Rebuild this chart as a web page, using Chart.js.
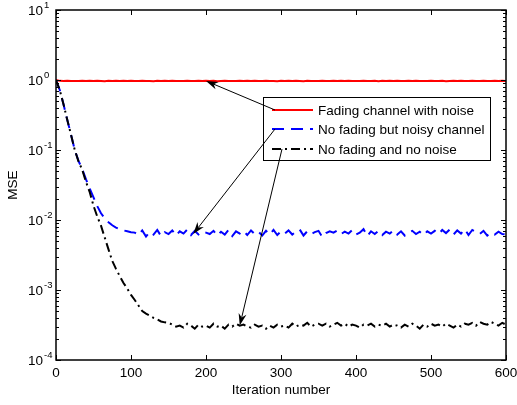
<!DOCTYPE html>
<html>
<head>
<meta charset="utf-8">
<script src="https://cdn.jsdelivr.net/npm/chart.js@4.4.1/dist/chart.umd.min.js"></script>
<style>
  html, body { margin: 0; padding: 0; background: #fff; }
  #wrap { width: 517px; height: 405px; position: relative; }
</style>
</head>
<body>
<div id="wrap"><canvas id="mseChart"></canvas></div>
<script>
// iteration index (every 5th iteration)
const iterations = [
  0, 5, 10, 15, 20, 25, 30, 35, 40, 45,
  50, 55, 60, 65, 70, 75, 80, 85, 90, 95,
  100, 105, 110, 115, 120, 125, 130, 135, 140, 145,
  150, 155, 160, 165, 170, 175, 180, 185, 190, 195,
  200, 205, 210, 215, 220, 225, 230, 235, 240, 245,
  250, 255, 260, 265, 270, 275, 280, 285, 290, 295,
  300, 305, 310, 315, 320, 325, 330, 335, 340, 345,
  350, 355, 360, 365, 370, 375, 380, 385, 390, 395,
  400, 405, 410, 415, 420, 425, 430, 435, 440, 445,
  450, 455, 460, 465, 470, 475, 480, 485, 490, 495,
  500, 505, 510, 515, 520, 525, 530, 535, 540, 545,
  550, 555, 560, 565, 570, 575, 580, 585, 590, 595,
  600
];

const fadingWithNoise = [
  1.00, 0.972, 0.968, 0.975, 0.966, 0.971, 0.964, 0.977, 0.969, 0.973,
  0.965, 0.974, 0.970, 0.962, 0.976, 0.968, 0.972, 0.966, 0.975, 0.969,
  0.973, 0.964, 0.971, 0.977, 0.967, 0.970, 0.963, 0.974, 0.968, 0.972,
  0.966, 0.975, 0.969, 0.971, 0.964, 0.976, 0.970, 0.967, 0.973, 0.965,
  0.972, 0.968, 0.977, 0.963, 0.970, 0.974, 0.966, 0.971, 0.969, 0.975,
  0.964, 0.972, 0.968, 0.976, 0.970, 0.965, 0.973, 0.967, 0.971, 0.962,
  0.975, 0.969, 0.972, 0.966, 0.974, 0.970, 0.963, 0.977, 0.968, 0.971,
  0.967, 0.973, 0.965, 0.970, 0.976, 0.968, 0.972, 0.964, 0.974, 0.969,
  0.971, 0.966, 0.975, 0.968, 0.970, 0.973, 0.962, 0.976, 0.969, 0.972,
  0.965, 0.974, 0.970, 0.967, 0.972, 0.964, 0.977, 0.969, 0.971, 0.966,
  0.973, 0.968, 0.971, 0.975, 0.963, 0.970, 0.974, 0.967, 0.972, 0.969,
  0.966, 0.976, 0.970, 0.968, 0.973, 0.965, 0.971, 0.974, 0.969, 0.972,
  0.970
];

const noFadingNoisy = [
  1.0, 0.72, 0.45, 0.27, 0.166, 0.10, 0.070, 0.053, 0.038, 0.028,
  0.021, 0.0158, 0.0125, 0.0105, 0.0093, 0.0084, 0.0078, 0.0074, 0.0071, 0.0069,
  0.0067, 0.0066, 0.0061, 0.0071, 0.0058, 0.0068, 0.0062, 0.0072, 0.0059, 0.0067,
  0.0063, 0.0071, 0.0060, 0.0069, 0.0064, 0.0073, 0.0061, 0.0070, 0.0062, 0.0068,
  0.0066, 0.0063, 0.0070, 0.0060, 0.0068, 0.0062, 0.0072, 0.0059, 0.0069, 0.0064,
  0.0070, 0.0061, 0.0071, 0.0063, 0.0068, 0.0060, 0.0070, 0.0062, 0.0072, 0.0061,
  0.0069, 0.0064, 0.0071, 0.0062, 0.0068, 0.0073, 0.0060, 0.0069, 0.0063, 0.0067,
  0.0070, 0.0057, 0.0065, 0.0069, 0.0066, 0.0071, 0.0063, 0.0068, 0.0064, 0.0072,
  0.0062, 0.0066, 0.0074, 0.0059, 0.0069, 0.0063, 0.0070, 0.0061, 0.0068, 0.0064,
  0.0071, 0.0062, 0.0069, 0.0060, 0.0066, 0.0070, 0.0063, 0.0068, 0.0061, 0.0069,
  0.0064, 0.0070, 0.0063, 0.0072, 0.0065, 0.0073, 0.0062, 0.0071, 0.0064, 0.0074,
  0.0061, 0.0072, 0.0067, 0.0063, 0.0070, 0.0060, 0.0066, 0.0062, 0.0068, 0.0063,
  0.0062
];

const noFadingNoNoise = [
  1.0, 0.72, 0.45, 0.27, 0.166, 0.10, 0.069, 0.052, 0.035, 0.025,
  0.016, 0.0112, 0.0083, 0.0056, 0.0038, 0.0026, 0.0020, 0.00158, 0.00126, 0.00105,
  0.00085, 0.00072, 0.00060, 0.00050, 0.00046, 0.00043, 0.00040, 0.00038, 0.000355, 0.000345,
  0.00034, 0.00032, 0.00030, 0.00031, 0.00029, 0.00033, 0.00031, 0.00028, 0.00032, 0.00030,
  0.00031, 0.00029, 0.00033, 0.00030, 0.00031, 0.00028, 0.00032, 0.00030, 0.00033, 0.00031,
  0.00032, 0.00030, 0.00029, 0.00032, 0.00030, 0.00031, 0.00028, 0.00031, 0.00029, 0.00032,
  0.00030, 0.00031, 0.00029, 0.00033, 0.00030, 0.00032, 0.00031, 0.00034, 0.00030, 0.00032,
  0.00033, 0.00031, 0.00033, 0.00030, 0.00032, 0.00034, 0.00031, 0.00033, 0.00030, 0.00032,
  0.00031, 0.00029, 0.00032, 0.00031, 0.00033, 0.00030, 0.00032, 0.00031, 0.00033, 0.00030,
  0.00032, 0.00031, 0.00029, 0.00032, 0.00030, 0.00033, 0.00031, 0.00028, 0.00032, 0.00030,
  0.00033, 0.00031, 0.00032, 0.00030, 0.00033, 0.00031, 0.00029, 0.00032, 0.00030, 0.00033,
  0.00032, 0.00034, 0.00031, 0.00035, 0.00033, 0.00032, 0.00035, 0.00033, 0.00031, 0.00034,
  0.00032
];

const seriesNames = ['Fading channel with noise', 'No fading but noisy channel', 'No fading and no noise'];
const xTicks = [0, 100, 200, 300, 400, 500, 600];
const yExponents = [-4, -3, -2, -1, 0, 1];

// where each legend arrow points, in data units (iteration, MSE)
const arrowTargets = [
  { x: 200, y: 0.97 },
  { x: 183, y: 0.0063 },
  { x: 245, y: 0.00031 }
];

const FONT = '"Liberation Sans", Arial, Helvetica, sans-serif';
const lineStyles = [
  { color: '#ff0000', dash: [] },
  { color: '#0000ff', dash: [12, 7] },
  { color: '#000000', dash: [9, 4, 2, 4] }
];

function toPoints(values) {
  return iterations.map((it, i) => ({ x: it, y: values[i] }));
}

function drawArrow(ctx, x0, y0, x1, y1) {
  const dx = x1 - x0, dy = y1 - y0;
  const len = Math.hypot(dx, dy);
  const ux = dx / len, uy = dy / len;
  const nx = -uy, ny = ux;
  const L = 12, W = 8;
  const bx = x1 - ux * L, by = y1 - uy * L;
  const notchX = x1 - ux * L * 0.7, notchY = y1 - uy * L * 0.7;
  ctx.beginPath();
  ctx.moveTo(x0, y0);
  ctx.lineTo(notchX, notchY);
  ctx.stroke();
  ctx.beginPath();
  ctx.moveTo(x1, y1);
  ctx.lineTo(bx + nx * W / 2, by + ny * W / 2);
  ctx.lineTo(notchX, notchY);
  ctx.lineTo(bx - nx * W / 2, by - ny * W / 2);
  ctx.closePath();
  ctx.fill();
}

const matlabAxes = {
  id: 'matlabAxes',
  afterDatasetsDraw(chart) {
    const { ctx, chartArea: a, scales: { x, y } } = chart;
    ctx.save();
    ctx.strokeStyle = '#000';
    ctx.fillStyle = '#000';

    // inward tick marks on all four sides
    ctx.lineWidth = 1;
    ctx.beginPath();
    xTicks.forEach(v => {
      const px = Math.round(x.getPixelForValue(v)) + 0.5;
      ctx.moveTo(px, a.bottom); ctx.lineTo(px, a.bottom - 5);
      ctx.moveTo(px, a.top); ctx.lineTo(px, a.top + 5);
    });
    yExponents.forEach((e, k) => {
      const last = k === yExponents.length - 1;
      for (let m = 1; m <= (last ? 1 : 9); m++) {
        const py = Math.round(y.getPixelForValue(m * Math.pow(10, e))) + 0.5;
        const len = m === 1 ? 5 : 3;
        ctx.moveTo(a.left, py); ctx.lineTo(a.left + len, py);
        ctx.moveTo(a.right, py); ctx.lineTo(a.right - len, py);
      }
    });
    ctx.stroke();

    // frame
    ctx.lineWidth = 1.5;
    ctx.strokeRect(a.left, a.top, a.width, a.height);

    // x tick labels
    ctx.font = '13.5px ' + FONT;
    ctx.textAlign = 'center';
    ctx.textBaseline = 'middle';
    xTicks.forEach(v => ctx.fillText(String(v), x.getPixelForValue(v), a.bottom + 13));

    // y tick labels as 10 with a raised exponent
    yExponents.forEach(e => {
      const py = y.getPixelForValue(Math.pow(10, e));
      ctx.font = '13.5px ' + FONT;
      ctx.textAlign = 'right';
      ctx.textBaseline = 'middle';
      ctx.fillText('10', a.left - 13, py + 1);
      ctx.font = '9.5px ' + FONT;
      ctx.textAlign = 'left';
      ctx.textBaseline = 'alphabetic';
      ctx.fillText(String(e), a.left - 12, py - 2);
    });

    // axis titles
    ctx.font = '13.5px ' + FONT;
    ctx.textAlign = 'center';
    ctx.textBaseline = 'middle';
    ctx.fillText('Iteration number', (a.left + a.right) / 2, a.bottom + 30);
    ctx.save();
    ctx.translate(13, (a.top + a.bottom) / 2);
    ctx.rotate(-Math.PI / 2);
    ctx.fillText('MSE', 0, 0);
    ctx.restore();

    // legend box
    const bx = a.left + 207, by = a.top + 87, bw = 227, bh = 63;
    ctx.fillStyle = '#fff';
    ctx.fillRect(bx, by, bw, bh);
    ctx.lineWidth = 1;
    ctx.strokeStyle = '#000';
    ctx.strokeRect(bx + 0.5, by + 0.5, bw, bh);
    const rowY = [by + 13, by + 32, by + 52];
    const tailDx = [12, 12, 19];
    seriesNames.forEach((name, i) => {
      ctx.save();
      ctx.strokeStyle = lineStyles[i].color;
      ctx.lineWidth = 2;
      ctx.setLineDash(lineStyles[i].dash);
      ctx.beginPath();
      ctx.moveTo(bx + 9, rowY[i]);
      ctx.lineTo(bx + 50, rowY[i]);
      ctx.stroke();
      ctx.restore();
      ctx.fillStyle = '#000';
      ctx.font = '13.5px ' + FONT;
      ctx.textAlign = 'left';
      ctx.textBaseline = 'middle';
      ctx.fillText(name, bx + 55, rowY[i] + 1);
    });

    // arrows from legend entries to their curves
    ctx.lineWidth = 1;
    ctx.strokeStyle = '#000';
    ctx.fillStyle = '#000';
    arrowTargets.forEach((t, i) => {
      drawArrow(ctx, bx + tailDx[i], rowY[i], x.getPixelForValue(t.x), y.getPixelForValue(t.y));
    });
    ctx.restore();
  }
};

const ctx = document.getElementById('mseChart').getContext('2d');
new Chart(ctx, {
  type: 'line',
  data: {
    datasets: [
      { label: seriesNames[0], data: toPoints(fadingWithNoise), borderColor: lineStyles[0].color, borderWidth: 2, borderDash: lineStyles[0].dash, order: 2 },
      { label: seriesNames[1], data: toPoints(noFadingNoisy), borderColor: lineStyles[1].color, borderWidth: 2, borderDash: lineStyles[1].dash, order: 1 },
      { label: seriesNames[2], data: toPoints(noFadingNoNoise), borderColor: lineStyles[2].color, borderWidth: 2, borderDash: lineStyles[2].dash, order: 0 }
    ]
  },
  options: {
    responsive: true,
    maintainAspectRatio: false,
    animation: false,
    layout: { padding: { left: 56, right: 11, top: 10, bottom: 45 } },
    elements: { point: { radius: 0 }, line: { tension: 0, fill: false } },
    plugins: { legend: { display: false }, tooltip: { enabled: false } },
    scales: {
      x: {
        type: 'linear', min: 0, max: 600,
        ticks: { display: false }, grid: { display: false }, border: { display: false },
        afterFit(s) { s.height = 0; }
      },
      y: {
        type: 'logarithmic', min: 1e-4, max: 10,
        ticks: { display: false }, grid: { display: false }, border: { display: false },
        afterFit(s) { s.width = 0; }
      }
    }
  },
  plugins: [matlabAxes]
});
</script>
</body>
</html>
